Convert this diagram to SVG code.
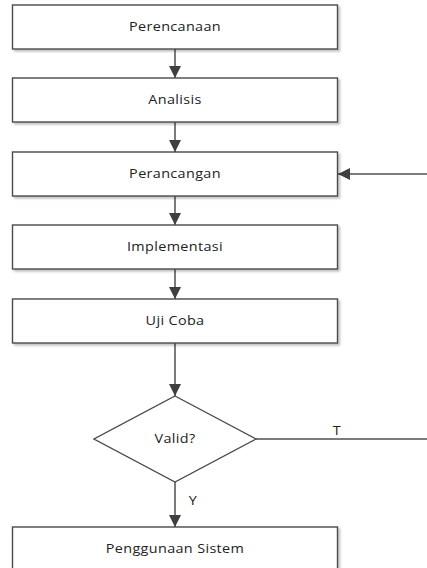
<svg xmlns="http://www.w3.org/2000/svg" width="427" height="568" viewBox="0 0 427 568">
<defs>
<marker id="ah" viewBox="0 0 12 12" refX="12" refY="6" markerWidth="12" markerHeight="12" markerUnits="userSpaceOnUse" orient="auto">
<path d="M0,0 L12,6 L0,12 z" fill="#3f3f3f"/>
</marker>
<filter id="sh" x="-5%" y="-5%" width="115%" height="130%">
<feGaussianBlur in="SourceAlpha" stdDeviation="1"/>
<feOffset dx="2" dy="2" result="b"/>
<feComponentTransfer><feFuncA type="linear" slope="0.25"/></feComponentTransfer>
<feMerge><feMergeNode/><feMergeNode in="SourceGraphic"/></feMerge>
</filter>
</defs>
<style>
.box{fill:#ffffff;stroke:#4a4a4a;stroke-width:1.4}
.lbl{font-family:"Open Sans","Noto Sans",sans-serif;font-size:12px;fill:#222222;text-anchor:middle;letter-spacing:0.3px}
.con{fill:none;stroke:#4f4f4f;stroke-width:1.5}
</style>
<rect width="427" height="568" fill="#ffffff"/>
<g id="connectors">
<line class="con" x1="175" y1="49" x2="175" y2="78" marker-end="url(#ah)"/>
<line class="con" x1="175" y1="122" x2="175" y2="152" marker-end="url(#ah)"/>
<line class="con" x1="175" y1="196" x2="175" y2="225" marker-end="url(#ah)"/>
<line class="con" x1="175" y1="269" x2="175" y2="299" marker-end="url(#ah)"/>
<line class="con" x1="175" y1="343" x2="175" y2="396" marker-end="url(#ah)"/>
<line class="con" x1="175" y1="482" x2="175" y2="527" marker-end="url(#ah)"/>
<line class="con" x1="256" y1="439" x2="427" y2="439"/>
<line class="con" x1="427" y1="174" x2="338" y2="174" marker-end="url(#ah)"/>
<text class="lbl" transform="translate(337,435) scale(1.2,1)">T</text>
<text class="lbl" transform="translate(193,505) scale(1.2,1)">Y</text>
</g>
<g id="perencanaan">
<rect class="box" x="12.5" y="5" width="325" height="44" filter="url(#sh)"/>
<text class="lbl" transform="translate(175,31) scale(1.2,1)">Perencanaan</text>
</g>
<g id="analisis">
<rect class="box" x="12.5" y="78" width="325" height="44" filter="url(#sh)"/>
<text class="lbl" transform="translate(175,104) scale(1.2,1)">Analisis</text>
</g>
<g id="perancangan">
<rect class="box" x="12.5" y="152" width="325" height="44" filter="url(#sh)"/>
<text class="lbl" transform="translate(175,178) scale(1.2,1)">Perancangan</text>
</g>
<g id="implementasi">
<rect class="box" x="12.5" y="225" width="325" height="44" filter="url(#sh)"/>
<text class="lbl" transform="translate(175,251) scale(1.2,1)">Implementasi</text>
</g>
<g id="ujicoba">
<rect class="box" x="12.5" y="299" width="325" height="44" filter="url(#sh)"/>
<text class="lbl" transform="translate(175,325) scale(1.2,1)">Uji Coba</text>
</g>
<g id="valid">
<polygon class="box" points="175,396 256,439 175,482 94,439"/>
<text class="lbl" transform="translate(175,443) scale(1.2,1)">Valid?</text>
</g>
<g id="penggunaan">
<rect class="box" x="12.5" y="527" width="325" height="44" filter="url(#sh)"/>
<text class="lbl" transform="translate(175,553) scale(1.2,1)">Penggunaan Sistem</text>
</g>
</svg>
